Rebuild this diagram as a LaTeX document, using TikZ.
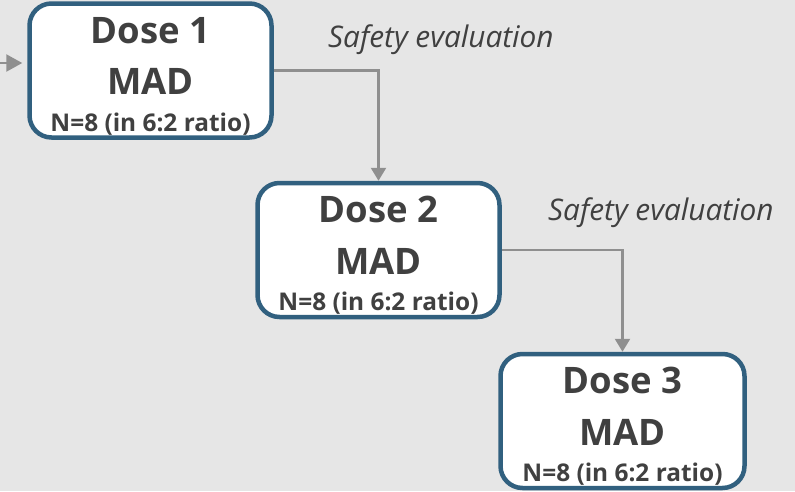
\documentclass[tikz,border=0pt]{standalone}
\usepackage{fontspec}
\setmainfont{Open Sans}
\usetikzlibrary{arrows.meta,calc}
\definecolor{bgc}{HTML}{E6E6E6}
\definecolor{bordc}{HTML}{31607F}
\definecolor{txtc}{HTML}{404040}
\definecolor{linec}{HTML}{8F8F8F}
\begin{document}
\begin{tikzpicture}[x=1pt,y=1pt,
  dosebox/.style={draw=bordc, fill=white, line width=4.5pt, rounded corners=22pt,
    minimum width=242pt, minimum height=134pt, inner sep=0pt},
  bigtxt/.style={anchor=base, inner sep=0pt, text=txtc, font=\fontsize{36.5}{40}\selectfont\bfseries},
  smalltxt/.style={anchor=base, inner sep=0pt, text=txtc, font=\fontsize{24.4}{28}\selectfont\bfseries},
  evaltxt/.style={anchor=base west, inner sep=0pt, text=txtc, font=\fontsize{29.8}{32}\selectfont\itshape},
  conn/.style={draw=linec, line width=2.4pt, -{Triangle[length=13pt,width=15pt]}}
]
\fill[bgc] (0,0) rectangle (795,-491);
\useasboundingbox (0,0) rectangle (795,-491);

\node[dosebox] (b1) at (150.5,-70.5) {};
\node[dosebox] (b2) at (378.5,-250) {};
\node[dosebox, minimum width=244pt] (b3) at (622.5,-421) {};

\foreach \b/\n in {b1/1,b2/2,b3/3}{
  \node[bigtxt] (\b d) at ($(\b.north)+(0,-42)$) {Dose \n};
  \node[bigtxt] (\b m) at ($(\b.north)+(0,-93.5)$) {MAD};
  \node[smalltxt] (\b n) at ($(\b.north)+(0,-130)$) {N=8 (in 6:2 ratio)};
}

\node[evaltxt] (e1) at (328,-47) {Safety evaluation};
\node[evaltxt] (e2) at (548,-220) {Safety evaluation};

\coordinate (in) at (-2,-63);
\draw[draw=linec, line width=2.4pt, -{Triangle[length=16pt,width=17pt]}, shorten >=5pt] (in) -- (in -| b1.west);
\draw[conn] (b1.east) -| (b2.north);
\draw[conn] (b2.east) -| (b3.north);
\end{tikzpicture}
\end{document}
